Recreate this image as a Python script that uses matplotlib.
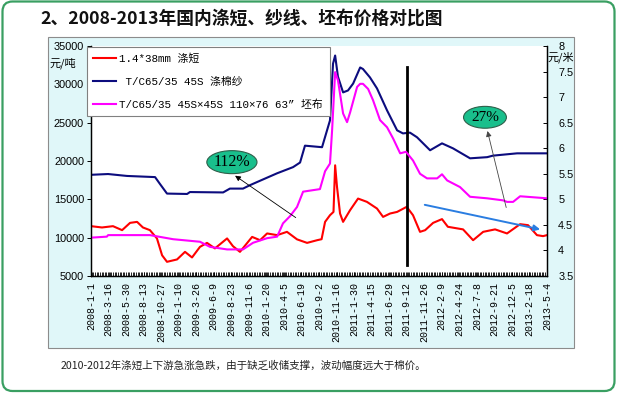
"""2008-2013 年国内涤短、纱线、坯布价格对比图 (重绘)."""

from datetime import datetime

import matplotlib

matplotlib.use("Agg")

import matplotlib.dates as mdates
import matplotlib.pyplot as plt
from matplotlib.font_manager import FontProperties
from matplotlib.patches import Ellipse, FancyBboxPatch, Rectangle

CJK = ["Noto Sans CJK SC", "DejaVu Sans"]
MONO_CJK = ["Liberation Mono", "Noto Sans CJK SC", "DejaVu Sans"]
SANS = ["Liberation Sans", "DejaVu Sans"]
SERIF = ["Liberation Serif", "DejaVu Serif"]

# --- datos ---
staple_dates = [
    "2008-01-01", "2008-02-17", "2008-04-04", "2008-05-13", "2008-06-16",
    "2008-07-16", "2008-08-10", "2008-09-09", "2008-10-09", "2008-10-31",
    "2008-11-21", "2009-01-03", "2009-02-06", "2009-03-08", "2009-04-11",
    "2009-05-11", "2009-06-14", "2009-08-05", "2009-08-30", "2009-09-29",
    "2009-11-20", "2009-12-24", "2010-01-23", "2010-03-07", "2010-04-18",
    "2010-05-31", "2010-07-13", "2010-08-25", "2010-09-13", "2010-09-28",
    "2010-10-19", "2010-11-03", "2010-11-10", "2010-11-18", "2010-12-01",
    "2010-12-14", "2011-01-13", "2011-02-16", "2011-03-26", "2011-05-08",
    "2011-06-03", "2011-07-03", "2011-08-02", "2011-09-12", "2011-10-09",
    "2011-11-08", "2011-11-30", "2012-01-03", "2012-02-10", "2012-03-06",
    "2012-05-10", "2012-06-22", "2012-08-04", "2012-09-24", "2012-11-14",
    "2013-01-09", "2013-02-12", "2013-03-22", "2013-04-17", "2013-05-04",
]
staple_price = [
    11500, 11330, 11500, 10980, 11930,
    12060, 11330, 10980, 9900, 7700,
    6850, 7160, 8150, 7420, 8800,
    9320, 8600, 9900, 8890, 8150,
    10100, 9670, 10550, 10330, 10760,
    9780, 9320, 9670, 9800, 12060,
    12930, 13360, 19440, 16620, 13150,
    12060, 13590, 15100, 14670, 13800,
    12710, 13150, 13360, 14020, 12930,
    10760, 10980, 11930, 12420, 11420,
    11080, 9670, 10760, 11080, 10550,
    11760, 11630, 10330, 10200, 10330,
]

yarn_dates = [
    "2008-01-01", "2008-03-14", "2008-06-03", "2008-10-01", "2008-10-22",
    "2008-11-21", "2009-02-15", "2009-02-27", "2009-07-19", "2009-08-17",
    "2009-10-12", "2009-11-11", "2010-01-06", "2010-03-07", "2010-05-14",
    "2010-06-13", "2010-07-04", "2010-09-15", "2010-10-19", "2010-11-01",
    "2010-11-10", "2010-11-22", "2010-12-14", "2011-01-04", "2011-01-26",
    "2011-02-25", "2011-03-09", "2011-04-08", "2011-05-08", "2011-06-20",
    "2011-08-02", "2011-08-27", "2011-09-26", "2011-10-26", "2011-12-21",
    "2012-02-10", "2012-03-28", "2012-06-09", "2012-08-21", "2012-09-15",
    "2012-12-27", "2013-05-04",
]
yarn_price = [
    18200, 18300, 18050, 17900, 17000,
    15750, 15700, 15950, 15900, 16400,
    16400, 16850, 17600, 18400, 19200,
    19800, 22000, 21800, 25300, 32700,
    33760, 31000, 28950, 29200, 30100,
    32200, 32000, 30900, 29470, 26600,
    24000, 23600, 23700, 23100, 21400,
    22300, 21650, 20350, 20500, 20700,
    21000, 21000,
]

cloth_dates = [
    "2008-01-01", "2008-03-09", "2008-03-14", "2008-09-09", "2008-12-17",
    "2009-04-11", "2009-05-24", "2009-08-05", "2009-10-12", "2009-11-24",
    "2010-01-23", "2010-03-07", "2010-04-01", "2010-05-01", "2010-05-31",
    "2010-06-26", "2010-09-06", "2010-09-28", "2010-10-19", "2010-10-28",
    "2010-11-10", "2010-11-22", "2010-12-14", "2010-12-31", "2011-01-13",
    "2011-02-12", "2011-02-25", "2011-03-09", "2011-03-31", "2011-04-21",
    "2011-05-21", "2011-06-20", "2011-07-16", "2011-08-15", "2011-09-09",
    "2011-10-09", "2011-11-08", "2011-12-08", "2012-01-20", "2012-02-10",
    "2012-03-03", "2012-04-27", "2012-06-09", "2012-08-21", "2012-10-28",
    "2012-11-14", "2012-12-10", "2013-01-09", "2013-05-04",
]
cloth_price = [
    4.25, 4.27, 4.30, 4.30, 4.22,
    4.17, 4.07, 4.02, 4.02, 4.15,
    4.24, 4.27, 4.53, 4.67, 4.85,
    5.15, 5.20, 5.55, 5.70, 6.35,
    7.49, 7.33, 6.68, 6.51, 6.70,
    7.20, 7.26, 7.26, 7.16, 6.94,
    6.55, 6.41, 6.19, 5.90, 5.93,
    5.76, 5.50, 5.41, 5.41, 5.49,
    5.37, 5.24, 5.05, 5.02, 4.98,
    4.95, 4.95, 5.06, 5.02,
]

tick_labels = [
    "2008-1-1", "2008-3-16", "2008-5-30", "2008-8-13", "2008-10-27",
    "2009-1-10", "2009-3-26", "2009-6-9", "2009-8-23", "2009-11-6",
    "2010-1-20", "2010-4-5", "2010-6-19", "2010-9-2", "2010-11-16",
    "2011-1-30", "2011-4-15", "2011-6-29", "2011-9-12", "2011-11-26",
    "2012-2-9", "2012-4-24", "2012-7-8", "2012-9-21", "2012-12-5",
    "2013-2-18", "2013-5-4",
]
split_date = "2011-9-12"

series_labels = [
    "1.4*38mm 涤短",
    " T/C65/35 45S 涤棉纱",
    "T/C65/35 45S×45S 110×76 63” 坯布",
]

TITLE = "2、2008-2013年国内涤短、纱线、坯布价格对比图"
FOOTER = "2010-2012年涤短上下游急涨急跌，由于缺乏收储支撑，波动幅度远大于棉价。"


def fecha(s):
    return datetime.strptime(s, "%Y-%m-%d")


def main():
    fig = plt.figure(figsize=(6.17, 3.94), dpi=100)
    fig.patch.set_facecolor("white")

    # lienzo en píxeles para marco, panel y textos
    bg = fig.add_axes([0, 0, 1, 1])
    bg.set_xlim(0, 617)
    bg.set_ylim(394, 0)
    bg.axis("off")
    bg.add_patch(FancyBboxPatch((2.5, 1.5), 612, 389.5,
                                boxstyle="round,pad=0,rounding_size=10",
                                fc="white", ec="#3a9f62", lw=1.6))
    bg.add_patch(Rectangle((48, 37), 526, 311, fc="#e0f7f9", ec="#8c8c8c",
                           lw=0.8))
    bg.text(40, 20, TITLE, family=CJK, fontsize=12.8, weight="bold",
            ha="left", va="center", color="#111111")
    bg.text(61, 366, FOOTER, family=CJK, fontsize=7.6, ha="left",
            va="center", color="#222222")
    bg.text(50, 63, "元/吨", family=CJK, fontsize=8, ha="left", va="center")
    bg.text(548, 57, "元/米", family=CJK, fontsize=8, ha="left", va="center")

    ax = fig.add_axes([91 / 617, (394 - 276) / 394, 456 / 617, 230 / 394])
    ax.set_facecolor("white")
    ax2 = ax.twinx()

    h1, = ax.plot([fecha(d) for d in staple_dates], staple_price,
                  color="#ff0000", lw=1.5, label=series_labels[0])
    h2, = ax.plot([fecha(d) for d in yarn_dates], yarn_price,
                  color="#0c0c7e", lw=1.5, label=series_labels[1])
    h3, = ax2.plot([fecha(d) for d in cloth_dates], cloth_price,
                   color="#ff00ff", lw=1.5, label=series_labels[2])

    ax.axvline(fecha(split_date), ymin=0.048, ymax=0.907, color="black", lw=2)

    ticks = [fecha(t) for t in tick_labels]
    ax.set_xlim(ticks[0], ticks[-1])
    ax.set_ylim(5000, 35000)
    ax.set_yticks(range(5000, 35001, 5000))
    ax2.set_ylim(3.5, 8)
    ax2.set_yticks([3.5, 4, 4.5, 5, 5.5, 6, 6.5, 7, 7.5, 8])
    ax2.set_yticklabels(["3.5", "4", "4.5", "5", "5.5", "6", "6.5", "7",
                         "7.5", "8"])

    ax.set_xticks(ticks)
    ax.set_xticklabels(tick_labels, rotation=90, family=["Liberation Mono"],
                       fontsize=7.2, va="top", ha="center")
    ax.xaxis.set_minor_locator(mdates.WeekdayLocator(byweekday=mdates.FR))
    ax.tick_params(axis="x", which="both", direction="in", length=3,
                   width=0.6, pad=4)
    ax.tick_params(axis="y", direction="out", length=3, width=0.7, pad=2,
                   labelsize=7.8)
    ax2.tick_params(axis="y", direction="in", length=3, width=0.7, pad=8,
                    labelsize=7.8)
    for lab in ax.get_yticklabels() + ax2.get_yticklabels():
        lab.set_family(SANS)

    for a in (ax, ax2):
        a.spines["top"].set_visible(False)
        for s in ("left", "right", "bottom"):
            a.spines[s].set_linewidth(0.9)

    leg = ax2.legend(handles=[h1, h2, h3], loc="upper left",
                     bbox_to_anchor=(-0.009, 0.995), borderaxespad=0,
                     prop=FontProperties(family=MONO_CJK, size=7.8),
                     handlelength=2.1, handletextpad=0.3, labelspacing=1.15,
                     borderpad=0.6, fancybox=False, framealpha=1,
                     edgecolor="#808080")
    leg.get_frame().set_linewidth(0.8)

    # anotaciones
    ax2.add_patch(Ellipse((0.309, 0.495), 0.110, 0.100,
                          transform=ax2.transAxes, fc="#19bf8c",
                          ec="#2f5f4a", lw=0.8, zorder=5))
    ax2.text(0.309, 0.495, "112%", transform=ax2.transAxes, family=SERIF,
             fontsize=11.5, ha="center", va="center", zorder=6)
    ax2.annotate("", xy=(0.311, 0.443), xytext=(0.454, 0.247),
                 xycoords="axes fraction",
                 arrowprops=dict(arrowstyle="-|>", color="black", lw=0.6,
                                 mutation_scale=8), zorder=5)

    ax2.add_patch(Ellipse((0.864, 0.690), 0.094, 0.095,
                          transform=ax2.transAxes, fc="#19bf8c",
                          ec="#2f5f4a", lw=0.8, zorder=5))
    ax2.text(0.864, 0.690, "27%", transform=ax2.transAxes, family=SERIF,
             fontsize=11, ha="center", va="center", zorder=6)
    ax2.annotate("", xy=(0.868, 0.642), xytext=(0.912, 0.286),
                 xycoords="axes fraction",
                 arrowprops=dict(arrowstyle="-|>", color="#444444", lw=0.6,
                                 mutation_scale=8), zorder=5)

    ax2.annotate("", xy=(0.991, 0.200), xytext=(0.726, 0.312),
                 xycoords="axes fraction",
                 arrowprops=dict(arrowstyle="-|>", color="#2a7de1", lw=1.4,
                                 mutation_scale=9), zorder=5)

    fig.savefig("out.png", dpi=100)


if __name__ == "__main__":
    main()
